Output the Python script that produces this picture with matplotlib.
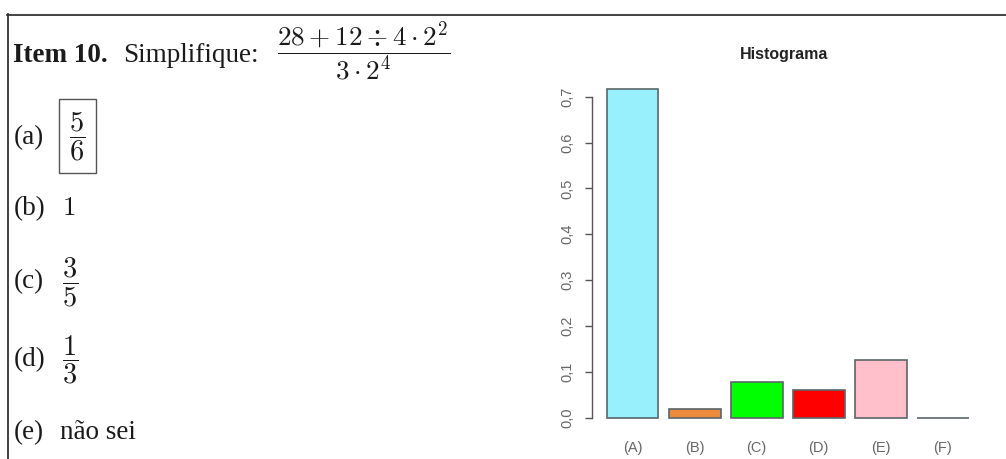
import matplotlib
matplotlib.use("Agg")
import matplotlib.pyplot as plt
from matplotlib.lines import Line2D

# ---- data ----
categories = ["(A)", "(B)", "(C)", "(D)", "(E)", "(F)"]
proportions = [0.717, 0.020, 0.077, 0.060, 0.127, 0.0]
bar_colors = ["#98F0FC", "#EC8A3E", "#00FF00", "#FF0000", "#FFC0CB", "#FFFFFF"]
yticks = [0.0, 0.1, 0.2, 0.3, 0.4, 0.5, 0.6, 0.7]
ytick_labels = ["0,0", "0,1", "0,2", "0,3", "0,4", "0,5", "0,6", "0,7"]
chart_title = "Histograma"
question_bold = "Item 10."
question_text = "Simplifique:"
question_math = r"$\dfrac{28+12\div 4\cdot 2^2}{3\cdot 2^4}$"
option_labels = ["(a)", "(b)", "(c)", "(d)", "(e)"]
option_values = [r"$\dfrac{5}{6}$", r"$1$", r"$\dfrac{3}{5}$", r"$\dfrac{1}{3}$", "não sei"]

W, H = 1006, 459
plt.rcParams["mathtext.fontset"] = "cm"
fig = plt.figure(figsize=(W / 100, H / 100), dpi=100)
fig.patch.set_facecolor("white")


def fx(x):
    return x / W


def fy(y):
    return 1 - y / H


# ---- page border (top and left) ----
fig.add_artist(Line2D([fx(7), fx(1006)], [fy(14.5), fy(14.5)], color="#333333", lw=1.3,
                      transform=fig.transFigure))
fig.add_artist(Line2D([fx(8), fx(8)], [fy(14), fy(459)], color="#333333", lw=1.3,
                      transform=fig.transFigure))

# ---- left text ----
serif = "Liberation Serif"
tc = "#1a1a1a"
fs = 19.5
fig.text(fx(13), fy(62), question_bold, family=serif, weight="bold", fontsize=fs,
         color=tc, va="baseline", ha="left")
fig.text(fx(123), fy(62), question_text, family=serif, fontsize=fs,
         color=tc, va="baseline", ha="left")
fig.text(fx(364), fy(59), question_math, fontsize=fs, color=tc, va="baseline", ha="center")

label_baselines = [144, 215, 288, 366, 439]
frac_bars = [136, None, 282, 360, None]
value_x = [77.5, 62, 70, 70, 60]
for i, (lab, val) in enumerate(zip(option_labels, option_values)):
    fig.text(fx(14), fy(label_baselines[i]), lab, family=serif, fontsize=fs, color=tc,
             va="baseline", ha="left")
    if frac_bars[i] is not None:
        kw = {}
        if i == 0:
            kw["bbox"] = dict(boxstyle="square,pad=0.36", fc="none", ec="#555555", lw=1.0)
        fig.text(fx(value_x[i]), fy(frac_bars[i]), val, fontsize=fs + 1, color=tc,
                 va="center", ha="center", **kw)
    else:
        fig.text(fx(value_x[i]), fy(label_baselines[i]), val, family=serif, fontsize=fs,
                 color=tc, va="baseline", ha="left")

# ---- bar chart ----
left_px, right_px = 592.3, 983.2
top_px, bottom_px = 73.8, 431.5
ax = fig.add_axes([fx(left_px), fy(bottom_px), (right_px - left_px) / W, (bottom_px - top_px) / H])
ax.set_facecolor("none")

x = [0.7 + 1.2 * i for i in range(len(categories))]
ax.bar(x, proportions, width=1.0, color=bar_colors, edgecolor="#5a6668", linewidth=1.2)
ax.set_xlim(-0.08, 7.48)
ax.set_ylim(-0.03, 0.75)

for s in ["top", "right", "bottom"]:
    ax.spines[s].set_visible(False)
ax.spines["left"].set_bounds(0, 0.7)
ax.spines["left"].set_color("#555555")
ax.spines["left"].set_linewidth(1.0)

ax.set_yticks(yticks)
ax.set_yticklabels(ytick_labels, rotation=90, va="center", family="Liberation Sans",
                   fontsize=10.5, color="#666666")
ax.tick_params(axis="y", length=5, width=1.0, color="#555555", pad=8)

ax.set_xticks(x)
ax.set_xticklabels(categories, family="Liberation Sans", fontsize=10.5, color="#666666")
ax.tick_params(axis="x", length=0, pad=6.5)

fig.text(fx(784), fy(55), chart_title, family="Liberation Sans", weight="bold",
         fontsize=11.5, color="#222222", ha="center", va="center")

fig.savefig("out.png", dpi=100)
